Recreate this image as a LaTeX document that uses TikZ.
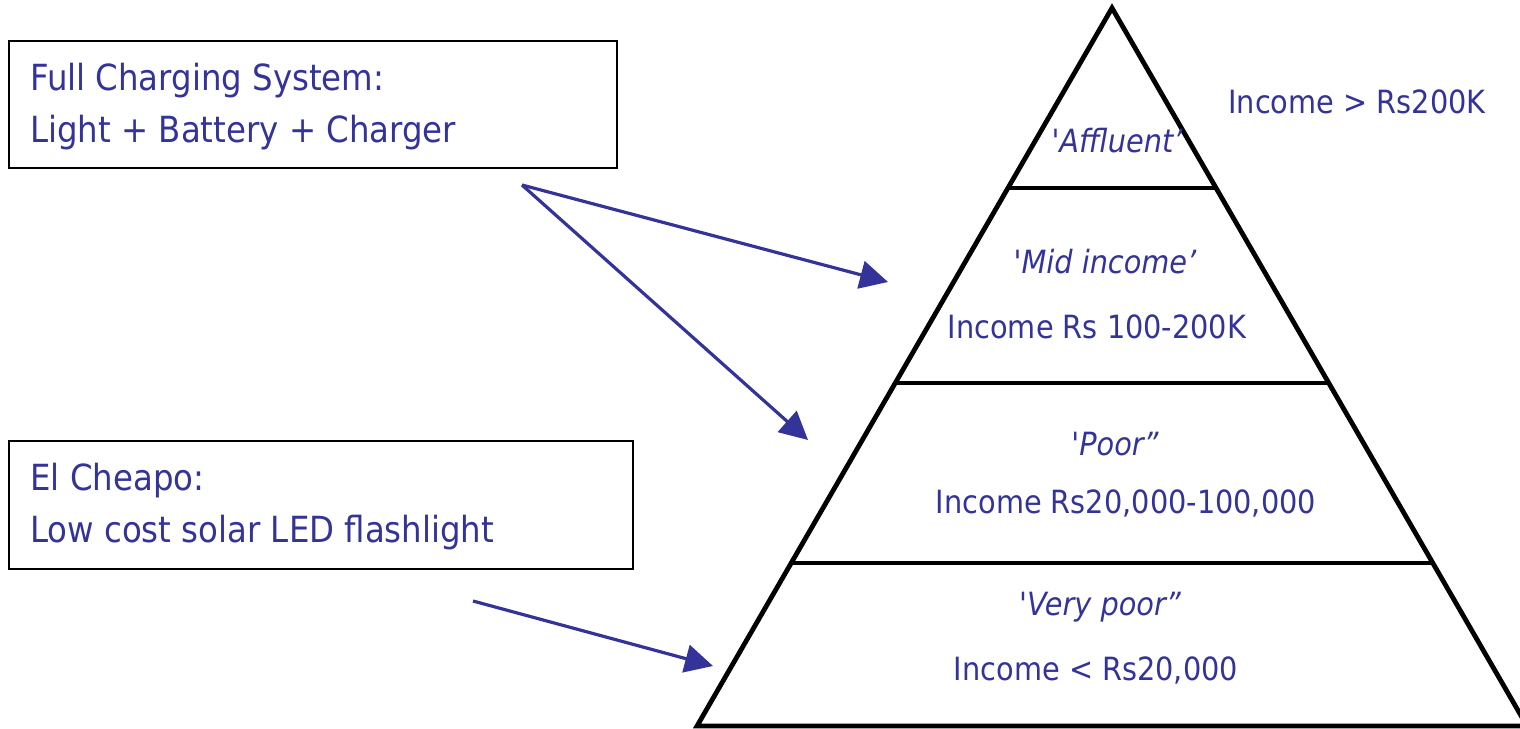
\documentclass[tikz,border=0pt]{standalone}
\usepackage{fontspec}
\setmainfont{DejaVu Sans Condensed}
\usetikzlibrary{arrows.meta}
\definecolor{ink}{RGB}{51,51,153}
\begin{document}
\begin{tikzpicture}[x=0.5pt,y=-0.5pt,
  lbl/.style={text=ink, inner sep=0pt, anchor=base, font=\fontsize{16pt}{19pt}\selectfont},
  tag/.style={lbl, font=\fontsize{16pt}{19pt}\selectfont\itshape},
  boxlbl/.style={text=ink, inner sep=0pt, anchor=base west, font=\fontsize{18pt}{22pt}\selectfont},
  frame/.style={draw=black, line width=1pt, rectangle, inner sep=0pt},
  pointer/.style={draw=ink, line width=1.6pt, -{Triangle[length=14pt,width=14pt]}},
  outline/.style={draw=black, line width=2.4pt, line join=miter},
  tier/.style={draw=black, line width=1.7pt},
]
\useasboundingbox (0,0) rectangle (1520,728);

% pyramid outline and tier dividers
\coordinate (apex) at (1112,8);
\coordinate (bl) at (697,726);
\coordinate (br) at (1527,726);
\draw[outline] (bl) -- (apex) -- (br) -- cycle;
\draw[tier] (1008,188) -- (1216,188);
\draw[tier] (896,383) -- (1328,383);
\draw[tier] (792,563) -- (1432,563);

% tier labels
\node[tag] (affl) at (1117,152) {\textquotesingle Affluent’};
\node[lbl, anchor=base west] (inc1) at (1228,113) {Income > Rs200K};
\node[tag] (mid) at (1105,273) {\textquotesingle Mid income’};
\node[lbl] (inc2) at (1097,338) {Income Rs 100-200K};
\node[tag] (poor) at (1115,455) {\textquotesingle Poor”};
\node[lbl] (inc3) at (1126,513) {Income Rs20,000-100,000};
\node[tag] (vpoor) at (1100,615) {\textquotesingle Very poor”};
\node[lbl] (inc4) at (1096,680) {Income < Rs20,000};

% product boxes
\node[frame, minimum width=304pt, minimum height=63.5pt] (fullbox) at (313,104.5) {};
\node[boxlbl] (full1) at (30,90) {Full Charging System:};
\node[boxlbl] (full2) at (30,142) {Light + Battery + Charger};

\node[frame, minimum width=312pt, minimum height=64pt] (cheapbox) at (321,505) {};
\node[boxlbl] (cheap1) at (30,490) {El Cheapo:};
\node[boxlbl] (cheap2) at (30,542) {Low cost solar LED flashlight};

% pointers into the pyramid
\coordinate (s1) at (522,185);
\coordinate (t1) at (888,282);
\coordinate (t2) at (808,440);
\coordinate (s3) at (473,601);
\coordinate (t3) at (713,666);
\draw[pointer] (s1) -- (t1);
\draw[pointer] (s1) -- (t2);
\draw[pointer] (s3) -- (t3);
\end{tikzpicture}
\end{document}
